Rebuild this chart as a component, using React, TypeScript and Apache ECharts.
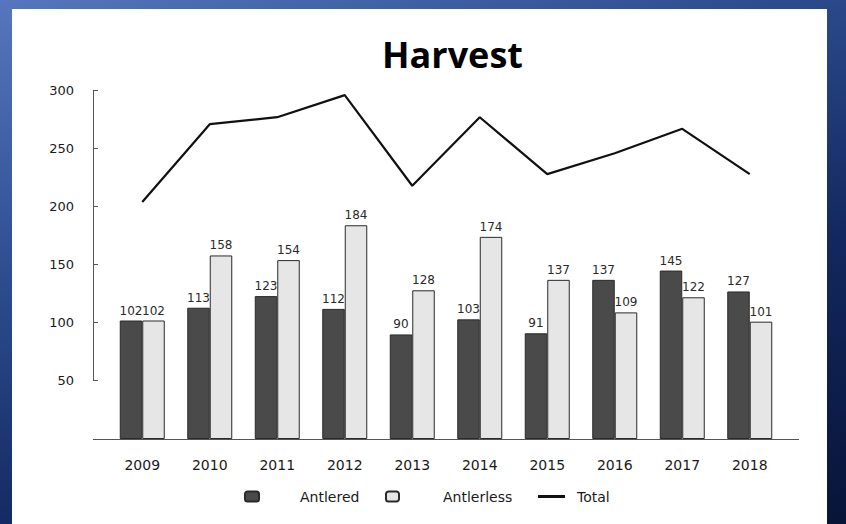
import React, { useEffect, useRef } from 'react';
import * as echarts from 'echarts';

const titleText = 'Harvest';
const categories = ['2009', '2010', '2011', '2012', '2013', '2014', '2015', '2016', '2017', '2018'];
const antlered = [102, 113, 123, 112, 90, 103, 91, 137, 145, 127];
const antlerless = [102, 158, 154, 184, 128, 174, 137, 109, 122, 101];
const total = [204, 271, 277, 296, 218, 277, 228, 246, 267, 228];
const seriesNames = ['Antlered', 'Antlerless', 'Total'];

const FONT = 'DejaVu Sans';

export default function App() {
  const ref = useRef<HTMLDivElement>(null);

  useEffect(() => {
    if (!ref.current) return;
    const chart = echarts.init(ref.current, undefined, { renderer: 'svg' });
    const labelStyle = { show: true, position: 'top', distance: 4, fontSize: 12, color: '#2a2a2a', fontFamily: FONT };
    chart.setOption({
      animation: false,
      title: {
        text: titleText,
        left: 382,
        top: 36,
        padding: 0,
        textStyle: { fontFamily: 'Open Sans', fontWeight: 'bold', fontSize: 36, color: '#000' },
      },
      legend: [
        {
          data: [{ name: seriesNames[0], icon: 'roundRect' }],
          left: 244, top: 489.5, padding: 0,
          itemWidth: 14, itemHeight: 10,
          textStyle: { fontFamily: FONT, fontSize: 14, color: '#1a1a1a', padding: [0, 0, 0, 36] },
        },
        {
          data: [{ name: seriesNames[1], icon: 'roundRect' }],
          left: 385, top: 489.5, padding: 0,
          itemWidth: 13, itemHeight: 10,
          textStyle: { fontFamily: FONT, fontSize: 14, color: '#1a1a1a', padding: [0, 0, 0, 39] },
        },
        {
          data: [{ name: seriesNames[2], icon: 'rect', itemStyle: { color: '#111' } }],
          left: 538, top: 489.5, padding: 0,
          itemWidth: 27, itemHeight: 3,
          textStyle: { fontFamily: FONT, fontSize: 14, color: '#1a1a1a', padding: [0, 0, 0, 7] },
        },
      ],
      grid: [
        { left: 108.5, right: 62.5, top: 90.5, bottom: 85, containLabel: false },
        { left: 93, right: 47, top: 90.5, height: 290, containLabel: false },
      ],
      xAxis: [
        {
          type: 'category',
          gridIndex: 0,
          data: categories,
          axisLine: { show: false },
          axisTick: { show: false },
          axisLabel: { fontFamily: FONT, fontSize: 14, color: '#1a1a1a', margin: 19 },
        },
        { type: 'category', gridIndex: 1, data: categories, show: false },
      ],
      yAxis: [
        {
          type: 'value', gridIndex: 0, min: 0, max: 300, interval: 50,
          axisLine: { show: false }, axisTick: { show: false }, axisLabel: { show: false },
          splitLine: { show: false },
        },
        {
          type: 'value', gridIndex: 1, min: 50, max: 300, interval: 50,
          axisLine: { show: true, lineStyle: { color: '#555', width: 1 } },
          axisTick: { show: true, inside: true, length: 5, lineStyle: { color: '#555' } },
          axisLabel: { fontFamily: FONT, fontSize: 13, color: '#1a1a1a', margin: 19 },
          splitLine: { show: false },
        },
      ],
      graphic: [
        {
          type: 'line',
          shape: { x1: 93, y1: 439.5, x2: 799, y2: 439.5 },
          style: { stroke: '#555', lineWidth: 1 },
          z: 10,
        },
      ],
      series: [
        {
          name: seriesNames[0], type: 'bar', xAxisIndex: 0, yAxisIndex: 0,
          data: antlered, barWidth: 22.5, barGap: '0%',
          itemStyle: { color: '#4a4a4a', borderColor: '#2a2a2a', borderWidth: 1 },
          label: labelStyle,
        },
        {
          name: seriesNames[1], type: 'bar', xAxisIndex: 0, yAxisIndex: 0,
          data: antlerless, barWidth: 22.5, barGap: '0%',
          itemStyle: { color: '#e6e6e6', borderColor: '#2a2a2a', borderWidth: 1 },
          label: labelStyle,
        },
        {
          name: seriesNames[2], type: 'line', xAxisIndex: 0, yAxisIndex: 0,
          data: total, symbol: 'none',
          lineStyle: { color: '#111', width: 2.2 },
          itemStyle: { color: '#111' },
          z: 5,
        },
      ],
    });
    return () => chart.dispose();
  }, []);

  return (
    <div
      style={{
        position: 'fixed', left: 0, top: 0, width: 846, height: 524, overflow: 'hidden',
        background: 'linear-gradient(160deg, #5677bd 0%, #2c4b8d 35%, #13285f 65%, #081438 100%)',
      }}
    >
      <div style={{ position: 'absolute', left: 12, top: 9, width: 815, height: 515, background: '#fff' }} />
      <div ref={ref} style={{ position: 'absolute', left: 0, top: 0, width: 846, height: 524 }} />
    </div>
  );
}
